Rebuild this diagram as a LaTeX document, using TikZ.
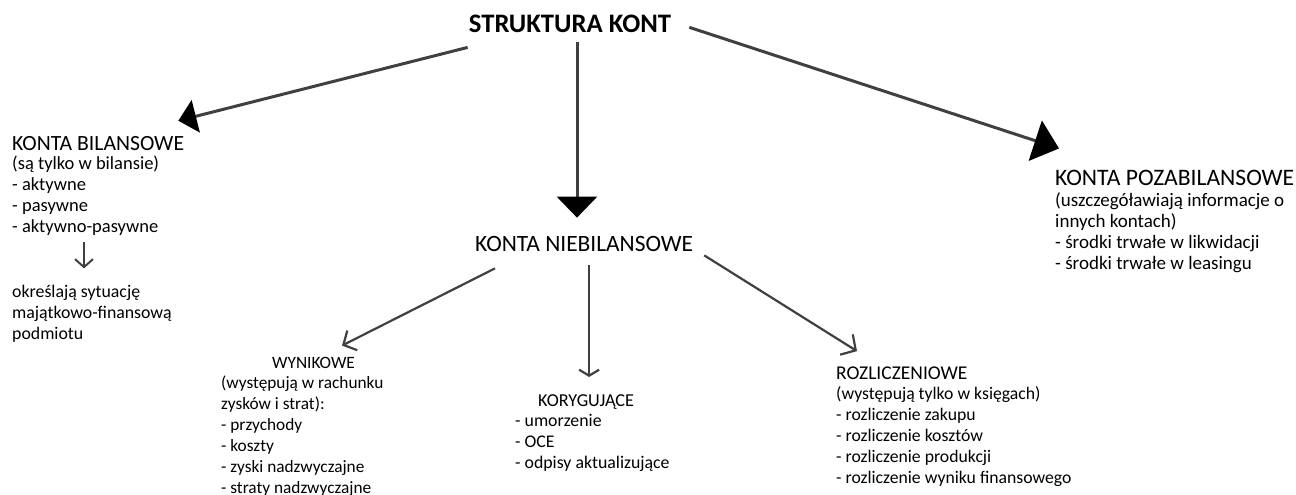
\documentclass[tikz,border=0pt]{standalone}
\usepackage{fontspec}
\setmainfont{Carlito}
\usetikzlibrary{arrows.meta}

\definecolor{linegray}{HTML}{404040}
\tikzset{
  head/.style={inner sep=0pt, anchor=base west, font=\fontsize{#1}{26}\selectfont},
  head/.default=21.7,
  sub/.style={inner sep=0pt, anchor=base west, font=\fontsize{#1}{21}\selectfont},
  sub/.default=17.3,
  % anchored at the baseline of the last line
  txt/.style={inner sep=0pt, anchor=base west, align=left, font=\fontsize{#1}{21}\selectfont},
  txt/.default=17.3,
  big/.style={draw=linegray, line width=3pt},
  small/.style={draw=linegray, line width=2.2pt},
}

\begin{document}
\begin{tikzpicture}[x=1pt,y=-1pt]
\useasboundingbox (0,0) rectangle (1296,495);

% top
\node[inner sep=0pt, anchor=base, font=\fontsize{26.7}{32}\selectfont\bfseries](title) at (570,33){STRUKTURA KONT};

% konta bilansowe
\node[head](bil) at (12,150){KONTA BILANSOWE};
\node[txt=18.5](bilt) at (12,232){(są tylko w bilansie)\\- aktywne\\- pasywne\\- aktywno-pasywne};
\node[txt=17.8](okr) at (12,339){określają sytuację\\majątkowo-finansową\\podmiotu};

% konta niebilansowe
\node[head=23.4](niebil) at (475,251){KONTA NIEBILANSOWE};
\node[sub](wyn) at (272,368){WYNIKOWE};
\node[txt](wynt) at (221,493){(występują w rachunku\\zysków i strat):\\- przychody\\- koszty\\- zyski nadzwyczajne\\- straty nadzwyczajne};
\node[sub=18.2](kor) at (538,406){KORYGUJĄCE};
\node[txt=17.8](kort) at (515,468){- umorzenie\\- OCE\\- odpisy aktualizujące};
\node[sub=19.5](roz) at (836,379){ROZLICZENIOWE};
\node[txt=17.7](rozt) at (836,483){(występują tylko w księgach)\\- rozliczenie zakupu\\- rozliczenie kosztów\\- rozliczenie produkcji\\- rozliczenie wyniku finansowego};

% konta pozabilansowe
\node[head=23.6](pozabil) at (1055,185){KONTA POZABILANSOWE};
\node[txt=19](pozt) at (1055,269){(uszczegóławiają informacje o\\innych kontach)\\- środki trwałe w likwidacji\\- środki trwałe w leasingu};

% arrows
\draw[big, -{Triangle[length=18pt,width=33pt,black]}] ([xshift=-1pt,yshift=-14pt]title.south west) -- ([xshift=-6pt,yshift=15pt]bil.north east);
\draw[big, -{Triangle[length=21pt,width=40pt,black]}] ([xshift=7pt,yshift=-9pt]title.south) coordinate (a2) -- ([yshift=18pt]a2 |- niebil.north);
\draw[big, -{Triangle[length=25pt,width=42pt,black]}] ([xshift=18pt,yshift=-3pt]title.east) -- ([xshift=4pt,yshift=21pt]pozabil.north west);

\draw[small, -{Straight Barb[length=10pt,width=22pt]}] ([xshift=20pt,yshift=-17pt]niebil.south west) -- ([xshift=-13pt,yshift=11pt]wyn.north east);
\draw[small, -{Straight Barb[length=6pt,width=20pt]}] ([xshift=5pt,yshift=-14pt]niebil.south) coordinate (b2) -- ([yshift=17pt]b2 |- kor.north);
\draw[small, -{Straight Barb[length=11pt,width=24pt]}] ([xshift=11pt,yshift=-4pt]niebil.south east) -- ([xshift=21pt,yshift=15pt]roz.north west);
\draw[small, line width=2pt, -{Straight Barb[length=8pt,width=18pt]}] ([xshift=72pt,yshift=-7pt]bilt.south west) -- ([xshift=72pt,yshift=16pt]okr.north west);
\end{tikzpicture}
\end{document}
